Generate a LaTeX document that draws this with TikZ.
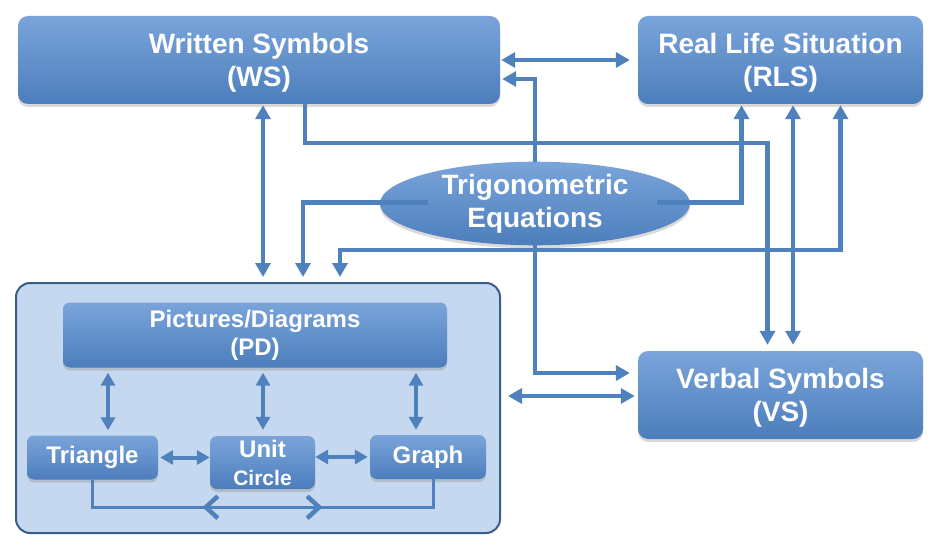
\documentclass[tikz,border=0pt]{standalone}
\usepackage{fontspec}
\setmainfont{Liberation Sans}
\usetikzlibrary{arrows.meta,calc,shapes.geometric,shadows}
\definecolor{LineClr}{RGB}{79,129,189}
\definecolor{BoxTopClr}{RGB}{122,164,218}
\definecolor{BoxClr}{RGB}{79,129,189}
\definecolor{BoxBotClr}{RGB}{76,126,188}
\definecolor{PanelClr}{RGB}{198,216,239}
\definecolor{PanelEdgeClr}{RGB}{56,93,138}

\begin{document}
\begin{tikzpicture}[x=1pt,y=-1pt,
  box/.style={rectangle,rounded corners=10pt,inner sep=0pt,align=center,text=white,
    top color=BoxTopClr,middle color=BoxClr,bottom color=BoxBotClr,
    drop shadow={opacity=0.3,shadow xshift=0pt,shadow yshift=-3pt}},
  bigbox/.style={box,font=\fontsize{28}{33}\selectfont\bfseries,minimum height=88pt,text depth=0pt},
  smallbox/.style={box,font=\fontsize{24}{28}\selectfont\bfseries,rounded corners=7pt},
  conn/.style={draw=LineClr,line width=4.5pt,-{Triangle[length=14pt,width=15pt]}},
  dbl/.style={conn,{Triangle[length=14pt,width=15pt]}-{Triangle[length=14pt,width=15pt]}},
  inconn/.style={draw=LineClr,line width=4pt,{Triangle[length=13pt,width=14pt]}-{Triangle[length=13pt,width=14pt]}}]
\useasboundingbox (0,0) rectangle (947,556);

\node[rectangle,rounded corners=14pt,fill=PanelClr,draw=PanelEdgeClr,line width=2pt,
  minimum width=484pt,minimum height=250pt] (pnl) at (258,408) {};

\node[bigbox,minimum width=482pt] (ws) at (259,60) {Written Symbols\\(WS)};
\node[bigbox,minimum width=285pt] (rls) at (780.5,60) {Real Life Situation\\(RLS)};
\node[bigbox,minimum width=285pt] (vs) at (780.5,395) {Verbal Symbols\\(VS)};
\node[ellipse,inner sep=0pt,align=center,text=white,top color=BoxTopClr,middle color=BoxClr,
  bottom color=BoxBotClr,drop shadow={opacity=0.3,shadow xshift=0pt,shadow yshift=-3pt},
  font=\fontsize{28}{33}\selectfont\bfseries,minimum width=310pt,minimum height=81pt]
  (te) at (535,203.5) {Trigonometric\\Equations};

\node[smallbox,minimum width=384pt,minimum height=65pt] (pd) at (255,335) {Pictures/Diagrams\\(PD)};
\node[smallbox,minimum width=131pt,minimum height=44pt] (tri) at (92.5,457.5) {Triangle};
\node[smallbox,minimum width=105pt,minimum height=53pt] (uc) at (262.5,462.5)
  {Unit\\{\fontsize{21}{24}\selectfont Circle}};
\node[smallbox,minimum width=116pt,minimum height=44pt] (gr) at (428,457) {Graph};

\draw[dbl,shorten >=8pt,shorten <=1pt] (ws.east) -- (rls.west);
\draw[conn] (te.north) |- ($(ws.east)+(2,19)$);
\draw[conn] ($(ws.south)+(46,0)$) -- ++(0,39) -| ($(vs.north)+(-13,-6)$);
\draw[conn] ($(te.east)+(-33,-1)$) -| ($(rls.south)+(-39,1)$);
\draw[dbl] ($(rls.south)+(12.5,1)$) -- ($(vs.north)+(12.5,-6)$);
\draw[dbl] ($(rls.south)+(60,1)$) -- ++(0,145) -| ($(pnl.north)+(82,-5)$);
\draw[conn] ($(te.west)+(48,-1)$) -| ($(pnl.north)+(45,-5)$);
\draw[dbl] ($(ws.south)+(4,1)$) -- ($(pnl.north)+(5,-5)$);
\draw[conn] (te.south) |- ($(vs.west)+(-8,-22)$);
\draw[dbl] ($(pnl.east)+(7,-12)$) -- ($(vs.west)+(-3,1)$);

\draw[inconn] ($(pd.south)+(-147,5)$) -- ($(tri.north)+(15.5,-5)$);
\draw[inconn] ($(pd.south)+(8,5)$) -- ($(uc.north)+(0.5,-6)$);
\draw[inconn] ($(pd.south)+(161,5)$) -- ($(gr.north)+(-12,-5)$);
\draw[inconn,shorten <=2pt] (tri.east) -- (tri.east -| uc.west);
\draw[inconn,shorten <=2pt] (gr.west) -- (gr.west -| uc.east);

\coordinate (ml) at ($(uc.south)+(-60,18)$);
\coordinate (mr) at ($(uc.south)+(60,18)$);
\draw[draw=LineClr,line width=3pt] (tri.south) -- ++(0,27.5) -| ($(gr.south)+(5,0)$);
\draw[draw=LineClr,line width=3pt,line cap=round,
  {Straight Barb[length=12pt,width=22pt,line width=4.5pt]}-{Straight Barb[length=12pt,width=22pt,line width=4.5pt]}]
  (ml) -- (mr);

\end{tikzpicture}
\end{document}
